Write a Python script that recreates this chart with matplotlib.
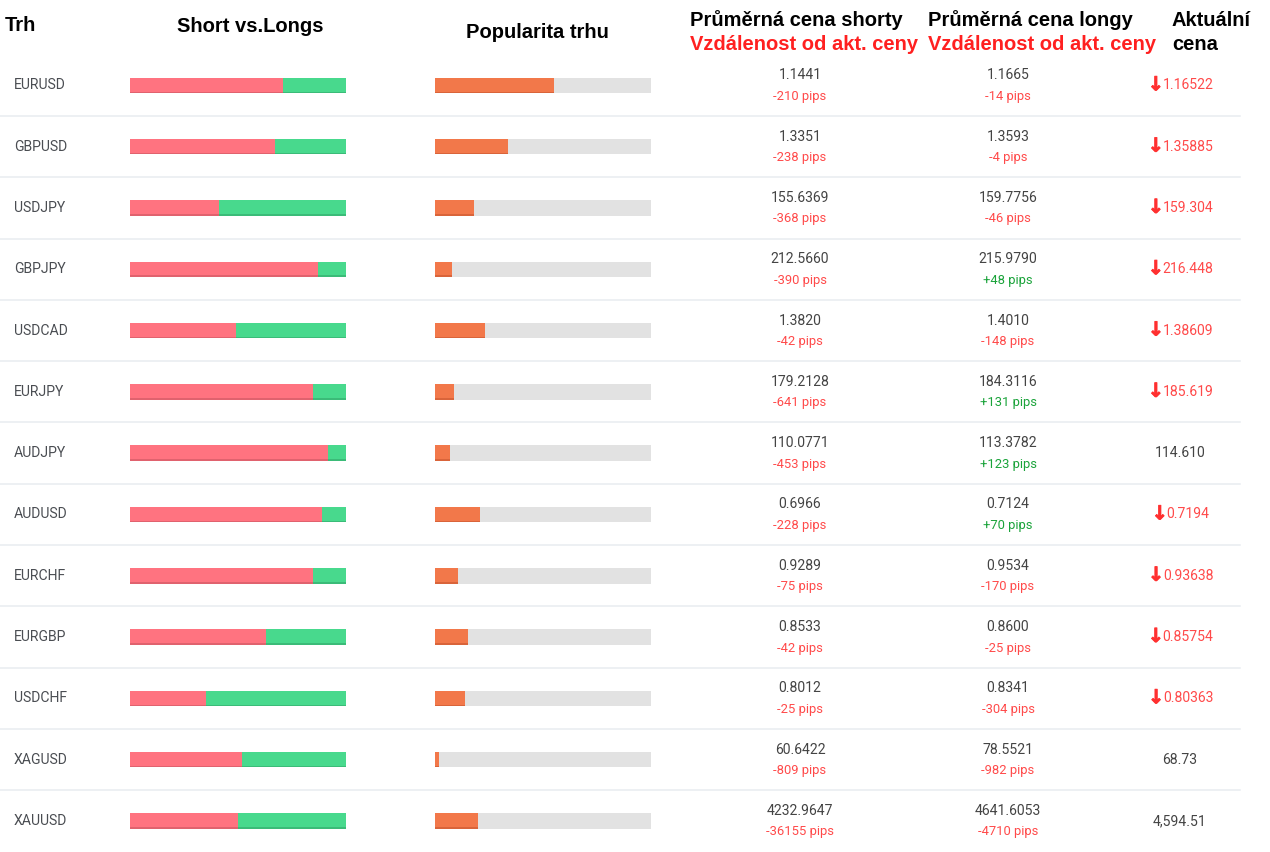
import matplotlib
matplotlib.use("Agg")
import matplotlib.pyplot as plt
import matplotlib.patheffects as pe

symbols = ["EURUSD", "GBPUSD", "USDJPY", "GBPJPY", "USDCAD", "EURJPY", "AUDJPY",
           "AUDUSD", "EURCHF", "EURGBP", "USDCHF", "XAGUSD", "XAUUSD"]
# share of short positions (%), the rest is longs
short_pct = [71, 67, 41, 87, 49, 84.5, 91.5, 89, 84.5, 63, 35, 52, 50]
# market popularity (%)
popularity = [55, 34, 18, 8, 23, 9, 7, 21, 10.5, 15.5, 14, 2, 20]
short_price = ["1.1441", "1.3351", "155.6369", "212.5660", "1.3820", "179.2128", "110.0771",
               "0.6966", "0.9289", "0.8533", "0.8012", "60.6422", "4232.9647"]
short_pips = [-210, -238, -368, -390, -42, -641, -453, -228, -75, -42, -25, -809, -36155]
long_price = ["1.1665", "1.3593", "159.7756", "215.9790", "1.4010", "184.3116", "113.3782",
              "0.7124", "0.9534", "0.8600", "0.8341", "78.5521", "4641.6053"]
long_pips = [-14, -4, -46, 48, -148, 131, 123, 70, -170, -25, -304, -982, -4710]
current_price = ["1.16522", "1.35885", "159.304", "216.448", "1.38609", "185.619", "114.610",
                 "0.7194", "0.93638", "0.85754", "0.80363", "68.73", "4,594.51"]
current_down = [True, True, True, True, True, True, False,
                True, True, True, True, False, False]

RED_BAR, GREEN_BAR, ORANGE, GREY = "#ff7380", "#48d98d", "#f2784a", "#e2e2e2"
RED_TXT, GREEN_TXT, DARK = "#ff4a4a", "#1aa33a", "#444444"
HEAD_FONT = ["Liberation Sans Narrow", "Liberation Sans", "DejaVu Sans"]
BODY_FONT = ["Roboto", "DejaVu Sans"]

fig = plt.figure(figsize=(12.7, 8.52), dpi=100)
ax = fig.add_axes([0, 0, 1, 1])
ax.set_xlim(0, 1270)
ax.set_ylim(852, 0)
ax.axis("off")

top, row_h = 54.7, 61.3
bar_w, bar_h = 216, 15.5
n = len(symbols)
centers = [top + row_h * (i + 0.5) for i in range(n)]

# headers
hk = dict(fontsize=14.5, fontweight="bold", family=HEAD_FONT, va="baseline")
ax.text(5, 31, "Trh", ha="left", **hk)
ax.text(250, 32, "Short vs.Longs", ha="center", **hk)
ax.text(537, 38, "Popularita trhu", ha="center", **hk)
ax.text(690, 26, "Průměrná cena shorty", ha="left", **hk)
ax.text(690, 50, "Vzdálenost od akt. ceny", ha="left", color="#ff2020", **hk)
ax.text(928, 26, "Průměrná cena longy", ha="left", **hk)
ax.text(928, 50, "Vzdálenost od akt. ceny", ha="left", color="#ff2020", **hk)
ax.text(1172, 26, "Aktuální", ha="left", **hk)
ax.text(1172, 50, "cena", ha="left", **hk)

# separators
for i in range(1, n):
    ax.plot([0, 1240], [top + row_h * i] * 2, color="#e8ecf0", lw=1.1)

short_w = [bar_w * p / 100 for p in short_pct]
long_w = [bar_w - w for w in short_w]
pop_w = [bar_w * p / 100 for p in popularity]

# short vs longs bars
ax.barh(centers, short_w, left=130, height=bar_h, color=RED_BAR)
ax.barh(centers, long_w, left=[130 + w for w in short_w], height=bar_h, color=GREEN_BAR)
shadow_y = [c + bar_h / 2 - 0.8 for c in centers]
ax.barh(shadow_y, short_w, left=130, height=1.6, color="#e0626e")
ax.barh(shadow_y, long_w, left=[130 + w for w in short_w], height=1.6, color="#3bbb78")

# popularity bars
ax.barh(centers, [bar_w] * n, left=435, height=bar_h, color=GREY)
ax.barh(centers, pop_w, left=435, height=bar_h, color=ORANGE)
ax.barh(shadow_y, pop_w, left=435, height=1.6, color="#d9643a")


def pips_text(v):
    return (f"+{v}" if v > 0 else f"{v}") + " pips"


fig.canvas.draw()
renderer = fig.canvas.get_renderer()
inv = ax.transData.inverted()

for i, c in enumerate(centers):
    ax.text(14, c, symbols[i], ha="left", va="center", fontsize=10.1, color="#4a4d52", family=BODY_FONT)
    for x, price, pips in [(800, short_price[i], short_pips[i]), (1008, long_price[i], long_pips[i])]:
        ax.text(x, c - 10, price, ha="center", va="center", fontsize=10.1, color=DARK, family=BODY_FONT)
        ax.text(x, c + 11, pips_text(pips), ha="center", va="center", fontsize=9.4,
                color=GREEN_TXT if pips > 0 else RED_TXT, family=BODY_FONT)
    if current_down[i]:
        t = ax.text(1188, c, current_price[i], ha="center", va="center", fontsize=10.1,
                    color=RED_TXT, family=BODY_FONT)
        bb = t.get_window_extent(renderer)
        left = inv.transform((bb.x0, bb.y0))[0]
        ax.text(left + 1.5, c - 0.5, "↓", ha="right", va="center", fontsize=14, fontweight="bold",
                color="#ff3030", family=["DejaVu Sans"],
                path_effects=[pe.withStroke(linewidth=0.6, foreground="#ff3030")])
    else:
        ax.text(1180, c, current_price[i], ha="center", va="center", fontsize=10.1,
                color=DARK, family=BODY_FONT)

fig.savefig("out.png", dpi=100)
